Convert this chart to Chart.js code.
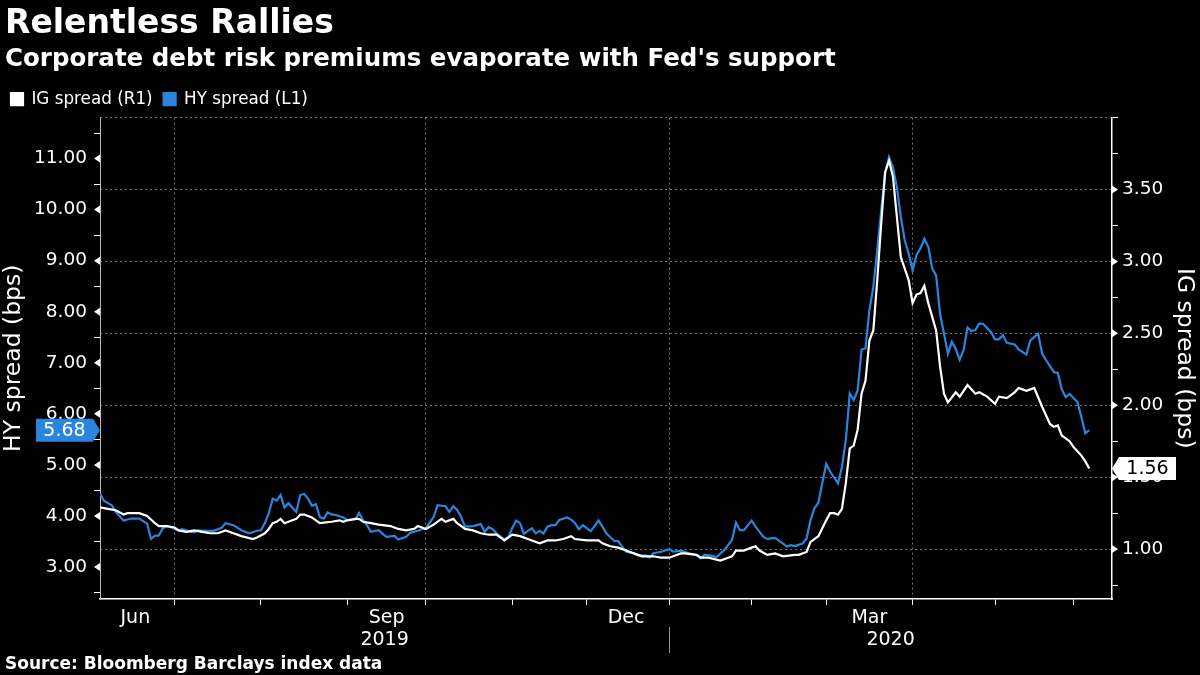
<!DOCTYPE html>
<html>
<head>
<meta charset="utf-8">
<title>Relentless Rallies</title>
<script src="https://cdn.jsdelivr.net/npm/chart.js@4.4.1/dist/chart.umd.min.js"></script>
<style>
  body { margin: 0; background: #000; }
  #wrap { position: relative; width: 1200px; height: 675px; overflow: hidden; font-family: 'DejaVu Sans', sans-serif; color: #fff; }
  #chart { position: absolute; left: 0; top: 0; }
  .title { position: absolute; left: 5px; top: 5px; font-size: 33px; line-height: 33px; font-weight: bold; }
  .subtitle { position: absolute; left: 5px; top: 46px; font-size: 24.5px; line-height: 24.5px; font-weight: bold; }
  .source { position: absolute; left: 5px; top: 655px; font-size: 17px; line-height: 17px; font-weight: bold; }
</style>
</head>
<body>
<div id="wrap">
  <canvas id="chart" width="1200" height="675"></canvas>
  <div class="title">Relentless Rallies</div>
  <div class="subtitle">Corporate debt risk premiums evaporate with Fed's support</div>
  <div class="source">Source: Bloomberg Barclays index data</div>
</div>
<script>
// x values are bond-market trading sessions counted from 1 Jul 2019 (= 0)
var hyDays = [-19,-18,-16,-15,-13,-11,-9,-7,-6,-5,-4,-3,-2,-1,1,2,4,5,6,8,10,12,13,15,17,19,21,22,23,24,25,26,27,28,29,31,32,33,34,35,36,37,38,39,40,41,43,44,46,47,48,49,50,52,53,54,56,57,59,60,62,63,64,66,67,69,70,71,72,73,74,76,78,79,80,81,82,84,85,86,87,88,89,90,91,92,93,94,95,96,97,98,100,101,102,103,104,105,106,107,108,109,110,112,113,114,115,117,118,120,121,122,124,126,127,129,131,133,134,135,137,138,140,142,143,144,145,147,148,150,151,153,155,156,157,158,160,161,162,163,164,165,166,167,169,170,171,172,173,174,175,176,177,178,179,180,181,182,183,184,185,186,187,188,189,190,191,192,193,194,195,196,197,198,199,200,201,202,203,204,205,206,208,209,210,211,212,214,215,217,218,220,221,222,224,225,226,227,228,230,231,232,233];
var hyVals = [4.44,4.30,4.21,4.08,3.91,3.95,3.95,3.85,3.55,3.61,3.62,3.76,3.80,3.78,3.72,3.74,3.69,3.68,3.72,3.71,3.71,3.77,3.86,3.82,3.72,3.66,3.71,3.72,3.86,4.05,4.34,4.30,4.41,4.17,4.25,4.08,4.41,4.43,4.34,4.20,4.23,3.98,3.95,4.07,4.03,4.02,3.97,3.92,3.93,4.06,3.92,3.82,3.69,3.72,3.65,3.59,3.61,3.54,3.59,3.67,3.71,3.74,3.76,3.98,4.21,4.19,4.08,4.19,4.12,3.98,3.79,3.80,3.84,3.69,3.78,3.74,3.66,3.54,3.59,3.76,3.91,3.86,3.65,3.71,3.76,3.66,3.71,3.66,3.79,3.82,3.82,3.92,3.97,3.93,3.86,3.74,3.82,3.76,3.70,3.80,3.91,3.79,3.66,3.51,3.51,3.40,3.30,3.27,3.23,3.23,3.19,3.27,3.30,3.35,3.30,3.32,3.27,3.23,3.17,3.24,3.22,3.19,3.33,3.53,3.87,3.72,3.72,3.91,3.79,3.59,3.55,3.57,3.46,3.40,3.43,3.41,3.46,3.56,3.92,4.15,4.26,4.64,5.02,4.87,4.64,4.96,5.49,6.40,6.27,6.46,7.26,7.28,8.03,8.49,9.20,9.99,10.70,11.03,10.83,10.44,9.86,9.40,9.14,8.81,9.11,9.24,9.43,9.27,8.85,8.71,7.96,7.57,7.18,7.41,7.27,7.06,7.25,7.69,7.62,7.64,7.77,7.76,7.60,7.46,7.46,7.54,7.39,7.36,7.26,7.16,7.44,7.57,7.18,7.05,6.82,6.80,6.48,6.33,6.39,6.23,5.94,5.62,5.68];

var igDays = [-19,-17,-15,-13,-12,-9,-7,-5,-4,-2,0,1,3,5,7,9,11,13,15,17,20,21,23,24,25,26,27,28,30,31,32,33,35,36,37,40,42,43,44,46,47,48,50,52,55,57,59,61,62,64,66,68,69,71,72,74,76,78,80,82,84,85,86,88,90,91,93,95,97,99,101,102,105,106,108,109,111,113,115,117,119,122,124,126,127,129,130,133,134,136,139,141,142,143,145,147,148,149,151,153,155,158,159,161,162,164,166,167,168,169,170,171,172,173,174,175,176,177,178,179,180,181,182,183,184,185,186,187,188,189,190,191,192,194,195,196,197,199,200,202,204,205,207,209,210,212,214,215,217,219,221,223,224,225,226,228,229,231,232,233];
var igVals = [1.29,1.28,1.27,1.24,1.25,1.25,1.23,1.18,1.16,1.16,1.15,1.13,1.12,1.13,1.12,1.11,1.11,1.13,1.11,1.09,1.07,1.08,1.11,1.14,1.18,1.19,1.21,1.18,1.20,1.21,1.24,1.24,1.22,1.20,1.18,1.19,1.20,1.19,1.20,1.21,1.21,1.19,1.18,1.17,1.16,1.14,1.13,1.14,1.16,1.14,1.17,1.21,1.19,1.21,1.18,1.14,1.13,1.11,1.10,1.10,1.06,1.08,1.10,1.09,1.07,1.06,1.04,1.06,1.06,1.07,1.09,1.07,1.06,1.06,1.06,1.04,1.02,1.01,0.99,0.97,0.95,0.95,0.94,0.94,0.95,0.97,0.97,0.96,0.94,0.94,0.92,0.94,0.95,0.99,0.99,1.01,1.02,0.99,0.96,0.97,0.95,0.96,0.96,0.98,1.05,1.09,1.20,1.25,1.25,1.24,1.28,1.46,1.70,1.72,1.83,2.08,2.17,2.45,2.52,2.87,3.26,3.62,3.70,3.59,3.31,3.03,2.95,2.87,2.71,2.77,2.78,2.83,2.71,2.52,2.27,2.08,2.02,2.09,2.06,2.14,2.08,2.09,2.06,2.01,2.06,2.05,2.09,2.12,2.10,2.12,1.99,1.87,1.85,1.86,1.79,1.75,1.71,1.65,1.61,1.56];

// axis ticks and labels
var monthStarts = [0, 22, 44, 64, 86, 105, 126, 147, 166, 188, 209, 229];
var quarterStarts = [0, 64, 126, 188];
var monthLabelDays = [-10, 54, 115, 177];
var monthLabels = ['Jun', 'Sep', 'Dec', 'Mar'];
var yearBreak = 126;
var yearLabels = ['2019', '2020'];
var hyTicks = [3, 4, 5, 6, 7, 8, 9, 10, 11];
var igTicks = [1, 1.5, 2, 2.5, 3, 3.5];

var xMin = -19, xMax = 238.8;
var blue = '#2b85de';
var gridColor = 'rgba(255,255,255,0.45)';

Chart.defaults.font.family = "'DejaVu Sans', sans-serif";
Chart.defaults.color = '#fff';

function pts(days, vals) {
  return days.map(function(d, i){ return {x: d, y: vals[i]}; });
}

function tri(ctx, x, y, dir) {
  ctx.beginPath();
  ctx.moveTo(x, y - 4);
  ctx.lineTo(x, y + 4);
  ctx.lineTo(x + dir * 6, y);
  ctx.closePath();
  ctx.fill();
}

function tag(ctx, x, y, text, bg, fg, dir) {
  var w = 57, h = 23, tip = 7;
  var near = x + dir * tip, far = near + dir * w;
  ctx.fillStyle = bg;
  ctx.beginPath();
  ctx.moveTo(x, y);
  ctx.lineTo(near, y - h / 2);
  ctx.lineTo(far, y - h / 2);
  ctx.lineTo(far, y + h / 2);
  ctx.lineTo(near, y + h / 2);
  ctx.closePath();
  ctx.fill();
  ctx.fillStyle = fg;
  ctx.font = "19px 'DejaVu Sans'";
  ctx.textAlign = 'center';
  ctx.textBaseline = 'middle';
  ctx.fillText(text, (near + far) / 2, y + 1);
}

var marks = {
  id: 'marks',
  afterDraw: function(chart){
    var ctx = chart.ctx, a = chart.chartArea;
    var y = chart.scales.y, y1 = chart.scales.y1, x = chart.scales.x, x3 = chart.scales.x3;
    ctx.save();
    ctx.fillStyle = '#fff';
    hyTicks.forEach(function(v){ tri(ctx, a.left, y.getPixelForValue(v), -1); });
    igTicks.forEach(function(v){ tri(ctx, a.right, y1.getPixelForValue(v), 1); });

    var sx = Math.round(x.getPixelForValue(yearBreak)) + 0.5;
    ctx.strokeStyle = '#999';
    ctx.lineWidth = 1;
    ctx.beginPath();
    ctx.moveTo(sx, x3.top - 2);
    ctx.lineTo(sx, x3.bottom);
    ctx.stroke();

    var hyLast = hyVals[hyVals.length - 1], igLast = igVals[igVals.length - 1];
    tag(ctx, a.left, y.getPixelForValue(hyLast), hyLast.toFixed(2), blue, '#fff', -1);
    tag(ctx, a.right, y1.getPixelForValue(igLast), igLast.toFixed(2), '#fff', '#000', 1);
    ctx.restore();
  }
};

var halves = [];
for (var i = 0; i <= 18; i++) halves.push(2.5 + i * 0.5);
var quarters = [];
for (var j = 0; j <= 13; j++) quarters.push(0.75 + j * 0.25);

new Chart(document.getElementById('chart'), {
  type: 'line',
  data: {
    datasets: [
      { label: 'IG spread (R1)', data: pts(igDays, igVals), yAxisID: 'y1', borderColor: '#fff', backgroundColor: '#fff', borderWidth: 2.2, pointRadius: 0, tension: 0 },
      { label: 'HY spread (L1)', data: pts(hyDays, hyVals), yAxisID: 'y', borderColor: blue, backgroundColor: blue, borderWidth: 2.2, pointRadius: 0, tension: 0 }
    ]
  },
  options: {
    responsive: false,
    animation: false,
    devicePixelRatio: 1,
    layout: { padding: { top: 79.8, bottom: 22, left: 0, right: 0 } },
    plugins: {
      legend: {
        align: 'start',
        labels: { color: '#fff', font: { size: 16.8 }, boxWidth: 12, boxHeight: 12, padding: 11 }
      },
      tooltip: { enabled: false }
    },
    scales: {
      x: {
        type: 'linear', position: 'bottom', weight: 0, min: xMin, max: xMax,
        afterBuildTicks: function(s){ s.ticks = monthStarts.map(function(v){ return {value: v}; }); },
        ticks: { display: false },
        grid: {
          color: function(c){ return c.tick && quarterStarts.indexOf(c.tick.value) >= 0 ? gridColor : 'transparent'; },
          tickColor: '#fff', tickLength: 6, lineWidth: 1
        },
        border: { color: '#fff', width: 1.5, dash: [2, 3] },
        afterFit: function(s){ s.height = 6; }
      },
      x2: {
        type: 'linear', position: 'bottom', weight: 1, min: xMin, max: xMax,
        afterBuildTicks: function(s){ s.ticks = monthLabelDays.map(function(v){ return {value: v}; }); },
        ticks: { callback: function(v, i){ return monthLabels[i]; }, font: { size: 19 }, padding: -6, maxRotation: 0, autoSkip: false },
        grid: { display: false },
        border: { display: false },
        afterFit: function(s){ s.height = 24; }
      },
      x3: {
        type: 'linear', position: 'bottom', weight: 2, min: xMin, max: xMax,
        afterBuildTicks: function(s){ s.ticks = [(xMin + yearBreak) / 2, (yearBreak + xMax) / 2].map(function(v){ return {value: v}; }); },
        ticks: { callback: function(v, i){ return yearLabels[i]; }, font: { size: 19 }, padding: -8, maxRotation: 0, autoSkip: false },
        grid: { display: false },
        border: { display: false },
        afterFit: function(s){ s.height = 24; }
      },
      y: {
        type: 'linear', position: 'left', min: 2.374, max: 11.802,
        afterBuildTicks: function(s){ s.ticks = halves.map(function(v){ return {value: v}; }); },
        ticks: { callback: function(v){ return hyTicks.indexOf(v) >= 0 ? v.toFixed(2) : ''; }, font: { size: 18.5 }, padding: 7, autoSkip: false },
        grid: {
          drawOnChartArea: false, tickLength: 6,
          tickColor: function(c){ return c.tick && hyTicks.indexOf(c.tick.value) >= 0 ? 'transparent' : '#fff'; }
        },
        border: { color: '#bbb', width: 1 },
        title: { display: true, text: 'HY spread (bps)', font: { size: 23.5 }, padding: { top: 0, bottom: 2 } },
        afterFit: function(s){ s.width = 100; }
      },
      y1: {
        type: 'linear', position: 'right', min: 0.653, max: 4.0,
        afterBuildTicks: function(s){ s.ticks = quarters.map(function(v){ return {value: v}; }); },
        ticks: { callback: function(v){ return igTicks.indexOf(v) >= 0 ? v.toFixed(2) : ''; }, font: { size: 18.5 }, padding: 4, autoSkip: false },
        grid: {
          color: function(c){ return c.tick && (c.tick.value * 2) % 1 === 0 ? gridColor : 'transparent'; },
          tickLength: 6,
          tickColor: function(c){ return c.tick && igTicks.indexOf(c.tick.value) >= 0 ? 'transparent' : '#fff'; }
        },
        border: { color: '#fff', width: 1.5, dash: [2, 3] },
        title: { display: true, text: 'IG spread (bps)', font: { size: 23.5 }, padding: { top: 2, bottom: 0 } },
        afterFit: function(s){ s.width = 88; }
      }
    }
  },
  plugins: [marks]
});
</script>
</body>
</html>
